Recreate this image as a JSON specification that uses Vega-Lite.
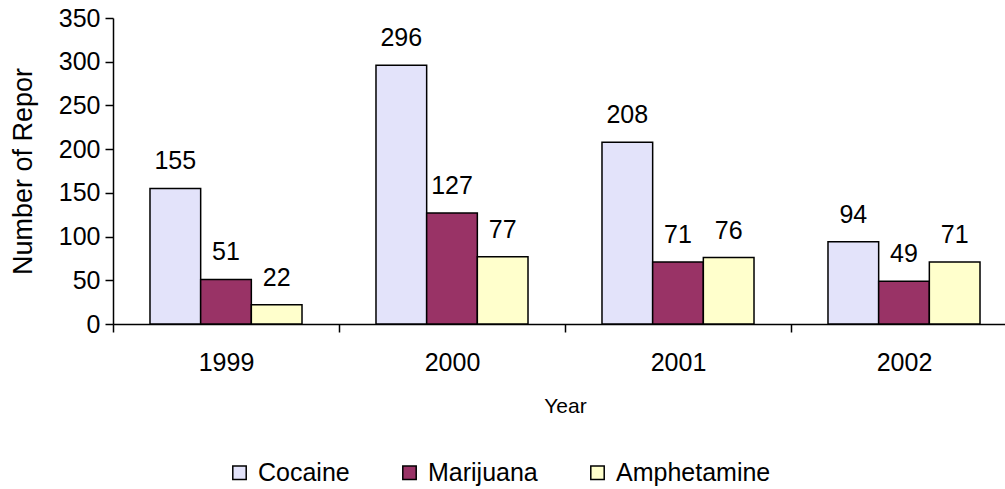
{
  "$schema": "https://vega.github.io/schema/vega-lite/v6.json",
  "width": 892,
  "height": 306,
  "autosize": {"type": "none"},
  "padding": {"left": 113, "top": 18, "right": 0, "bottom": 165},
  "background": "white",
  "config": {
    "view": {"stroke": null},
    "font": "Liberation Sans",
    "axis": {
      "domainColor": "black",
      "domainWidth": 1.5,
      "tickColor": "black",
      "tickWidth": 1.5,
      "tickSize": 8,
      "labelColor": "black",
      "titleColor": "black",
      "labelFont": "Liberation Sans",
      "titleFont": "Liberation Sans",
      "titleFontWeight": "normal",
      "grid": false
    }
  },
  "data": {
    "values": [
      {"Year": "1999", "Drug": "Cocaine", "Count": 155},
      {"Year": "1999", "Drug": "Marijuana", "Count": 51},
      {"Year": "1999", "Drug": "Amphetamine", "Count": 22},
      {"Year": "2000", "Drug": "Cocaine", "Count": 296},
      {"Year": "2000", "Drug": "Marijuana", "Count": 127},
      {"Year": "2000", "Drug": "Amphetamine", "Count": 77},
      {"Year": "2001", "Drug": "Cocaine", "Count": 208},
      {"Year": "2001", "Drug": "Marijuana", "Count": 71},
      {"Year": "2001", "Drug": "Amphetamine", "Count": 76},
      {"Year": "2002", "Drug": "Cocaine", "Count": 94},
      {"Year": "2002", "Drug": "Marijuana", "Count": 49},
      {"Year": "2002", "Drug": "Amphetamine", "Count": 71}
    ]
  },
  "encoding": {
    "x": {
      "field": "Year",
      "type": "nominal",
      "scale": {"range": [0, 904], "paddingInner": 0, "paddingOuter": 0},
      "axis": {
        "title": "Year",
        "titleFontSize": 21,
        "titlePadding": 20,
        "labelFontSize": 25,
        "labelAngle": 0,
        "labelPadding": 18,
        "tickBand": "extent"
      }
    },
    "xOffset": {
      "field": "Drug",
      "type": "nominal",
      "sort": ["Cocaine", "Marijuana", "Amphetamine"],
      "scale": {"paddingInner": 0, "paddingOuter": 0.73}
    },
    "y": {
      "field": "Count",
      "type": "quantitative",
      "scale": {"domain": [0, 350], "nice": false},
      "axis": {
        "title": "Number of Repor",
        "titleFontSize": 27,
        "titlePadding": 21,
        "labelFontSize": 25,
        "labelPadding": 5,
        "values": [0, 50, 100, 150, 200, 250, 300, 350]
      }
    }
  },
  "layer": [
    {
      "mark": {"type": "bar", "stroke": "black", "strokeWidth": 1.5},
      "encoding": {
        "color": {
          "field": "Drug",
          "type": "nominal",
          "sort": ["Cocaine", "Marijuana", "Amphetamine"],
          "scale": {
            "domain": ["Cocaine", "Marijuana", "Amphetamine"],
            "range": ["#E3E3FA", "#993366", "#FFFFCC"]
          },
          "legend": {
            "title": null,
            "orient": "none",
            "direction": "horizontal",
            "legendX": 114,
            "legendY": 442,
            "symbolType": "square",
            "symbolSize": 180,
            "symbolStrokeColor": "black",
            "symbolStrokeWidth": 1.5,
            "symbolOpacity": 1,
            "labelFontSize": 25,
            "labelColor": "black",
            "labelFont": "Liberation Sans",
            "labelOffset": 6,
            "columnPadding": 47
          }
        }
      }
    },
    {
      "mark": {"type": "text", "baseline": "alphabetic", "dy": -19, "fontSize": 25, "color": "black", "font": "Liberation Sans"},
      "encoding": {"text": {"field": "Count", "type": "quantitative"}}
    }
  ]
}
